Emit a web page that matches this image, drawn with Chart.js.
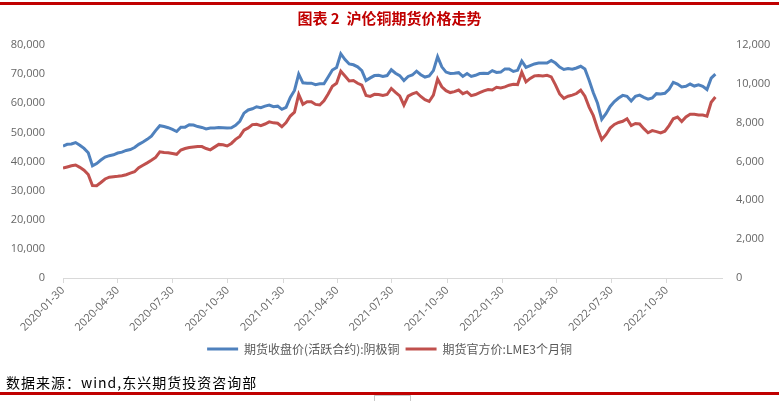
<!DOCTYPE html>
<html>
<head>
<meta charset="utf-8">
<script src="https://cdn.jsdelivr.net/npm/chart.js@4.4.1/dist/chart.umd.min.js"></script>
<style>
  body { margin: 0; background: #fff; }
  #wrap { position: relative; width: 779px; height: 401px; overflow: hidden; }
  #chart { position: absolute; left: 0; top: 0; }
  .rule { position: absolute; left: 0; width: 779px; background: #c00000; }
  #title { position: absolute; left: 0; top: 7px; width: 779px; text-align: center; line-height: 18px;
           color: #c00000; font: bold 15px "Noto Sans CJK SC", sans-serif; }
  #source { position: absolute; left: 6px; top: 372px; line-height: 18px; letter-spacing: 1px;
            color: #000; font: 14px "Noto Sans CJK SC", sans-serif; }
  #mark { position: absolute; left: 374px; top: 395px; width: 35px; height: 8px; border: 1px solid #c8c8c8; }
</style>
</head>
<body>
<div id="wrap">
  <canvas id="chart" width="779" height="401"></canvas>
  <div class="rule" style="top:2px;height:3px"></div>
  <div id="title">图表 2&nbsp;&nbsp;沪伦铜期货价格走势</div>
  <div id="source">数据来源：wind,东兴期货投资咨询部</div>
  <div class="rule" style="top:392px;height:3px"></div>
  <div id="mark"></div>
</div>
<script>
// weekly readings, first week 2020-01-30
const startDate = "2020-01-30";
const axisEnd = "2023-01-30";
const tickLabels = ["2020-01-30", "2020-04-30", "2020-07-30", "2020-10-30", "2021-01-30", "2021-04-30",
  "2021-07-30", "2021-10-30", "2022-01-30", "2022-04-30", "2022-07-30", "2022-10-30"];

// 期货收盘价(活跃合约):阴极铜, 元/吨 (left axis)
const shfeClose = [
  45300, 45900, 46000, 46500, 45600, 44500, 43000, 38500, 39300, 40500,
  41500, 42000, 42300, 42900, 43200, 43800, 44100, 44800, 45900, 46700,
  47600, 48700, 50600, 52300, 52000, 51600, 51000, 50300, 51800, 51800,
  52600, 52500, 52000, 51700, 51200, 51500, 51500, 51700, 51600, 51500,
  51600, 52400, 53800, 56600, 57700, 58100, 58800, 58500, 59000, 59400,
  58800, 59000, 57900, 58600, 62000, 64400, 70000, 67000, 66900, 66900,
  66400, 66700, 66700, 69000, 71400, 72300, 77000, 75000, 73500, 73200,
  72500, 71200, 67800, 68700, 69500, 69600, 69200, 69500, 71500, 70300,
  69500, 67800, 69200, 69700, 71000, 69800, 69000, 69400, 71200, 76000,
  72500, 70700, 70200, 70300, 70500, 69200, 70200, 69200, 69600, 70200,
  70300, 70200, 71200, 70600, 70700, 71800, 71800, 70900, 71300, 74500,
  72300, 72900, 73500, 73800, 73800, 73800, 74700, 73800, 72400, 71600,
  71900, 71700, 72100, 72700, 71800, 67900, 63600, 60000, 54500, 56400,
  58900, 60600, 61800, 62700, 62400, 60800, 62400, 62800, 62000, 61400,
  61800, 63300, 63200, 63400, 64800, 67200, 66600, 65600, 65800, 66600,
  65900, 66300, 65800, 64700, 68600, 70000
];

// 期货官方价:LME3个月铜, 美元/吨 (right axis)
const lme3m = [
  5665, 5720, 5780, 5820, 5700, 5550, 5330, 4760, 4750, 4920,
  5100, 5190, 5215, 5240, 5270, 5320, 5400, 5470, 5680, 5810,
  5930, 6060, 6210, 6500, 6460, 6450, 6410, 6370, 6590, 6670,
  6720, 6745, 6770, 6770, 6670, 6600, 6740, 6880, 6860, 6800,
  6930, 7140, 7290, 7610, 7730, 7900, 7920, 7850, 7930, 8040,
  7990, 7970, 7790, 8000, 8340, 8540, 9450, 8950, 9080, 9080,
  8940, 8910, 9130, 9480, 9880, 10030, 10650, 10400, 10150, 10170,
  10030, 9930, 9400, 9350, 9460, 9450, 9400, 9450, 9760, 9560,
  9380, 8900, 9370, 9480, 9560, 9350, 9180, 9090, 9420, 10250,
  9850, 9650, 9550, 9600, 9680, 9490, 9580, 9390, 9450, 9550,
  9640, 9710, 9680, 9820, 9790, 9840, 9930, 9980, 9960, 10600,
  10100, 10280, 10410, 10430, 10410, 10440, 10360, 9950, 9480, 9250,
  9360, 9420, 9500, 9670, 9360, 8800, 8360, 7700, 7130, 7380,
  7720, 7910, 8010, 8070, 8200, 7850, 7960, 7930, 7690, 7480,
  7590, 7540, 7470, 7560, 7850, 8200, 8290, 8060, 8290, 8430,
  8430, 8390, 8390, 8330, 9050, 9320
];

const DAY = 86400000;
const dayOf = (d) => Math.round((Date.parse(d) - Date.parse(startDate)) / DAY);
const weekDates = shfeClose.map((_, i) => new Date(Date.parse(startDate) + i * 7 * DAY).toISOString().slice(0, 10));
const toPoints = (vals) => vals.map((v, i) => ({ x: dayOf(weekDates[i]), y: v }));

const tickFont = { family: "Open Sans", size: 11 };
const tickColor = "#666666";

new Chart(document.getElementById("chart"), {
  type: "line",
  data: {
    datasets: [
      {
        label: "期货收盘价(活跃合约):阴极铜",
        data: toPoints(shfeClose),
        yAxisID: "y",
        borderColor: "#4F81BD",
        backgroundColor: "#4F81BD",
        borderWidth: 3,
        pointRadius: 0,
      },
      {
        label: "期货官方价:LME3个月铜",
        data: toPoints(lme3m),
        yAxisID: "y1",
        borderColor: "#C0504D",
        backgroundColor: "#C0504D",
        borderWidth: 3,
        pointRadius: 0,
      },
    ],
  },
  options: {
    responsive: false,
    animation: false,
    layout: { padding: { top: 45, bottom: 36, left: 0, right: 0 } },
    scales: {
      x: {
        type: "linear",
        min: 0,
        max: dayOf(axisEnd),
        afterBuildTicks: (s) => { s.ticks = tickLabels.map((t) => ({ value: dayOf(t) })); },
        afterFit: (s) => { s.height = 59; },
        ticks: {
          autoSkip: false,
          minRotation: 45,
          maxRotation: 45,
          padding: 1,
          font: tickFont,
          color: tickColor,
          callback: (v, i) => tickLabels[i],
        },
        grid: { drawOnChartArea: false, drawTicks: true, tickLength: 5, color: "#d9d9d9" },
        border: { color: "#d9d9d9" },
      },
      y: {
        position: "left",
        min: 0,
        max: 80000,
        afterFit: (s) => { s.width = 63; },
        ticks: { stepSize: 10000, padding: 10, font: tickFont, color: tickColor,
                 callback: (v) => v.toLocaleString("en-US") },
        grid: { display: false },
        border: { display: false },
      },
      y1: {
        position: "right",
        min: 0,
        max: 12000,
        afterFit: (s) => { s.width = 57; },
        ticks: { stepSize: 2000, padding: 6, font: tickFont, color: tickColor,
                 callback: (v) => v.toLocaleString("en-US") },
        grid: { display: false },
        border: { display: false },
      },
    },
    plugins: {
      legend: {
        position: "bottom",
        labels: {
          boxWidth: 31,
          boxHeight: 3,
          padding: 6,
          color: "#595959",
          font: { family: "Noto Sans CJK SC", size: 12 },
          generateLabels: (chart) =>
            Chart.defaults.plugins.legend.labels.generateLabels(chart).map((l) => ({ ...l, lineWidth: 0 })),
        },
      },
      tooltip: { enabled: false },
    },
  },
});
</script>
</body>
</html>
